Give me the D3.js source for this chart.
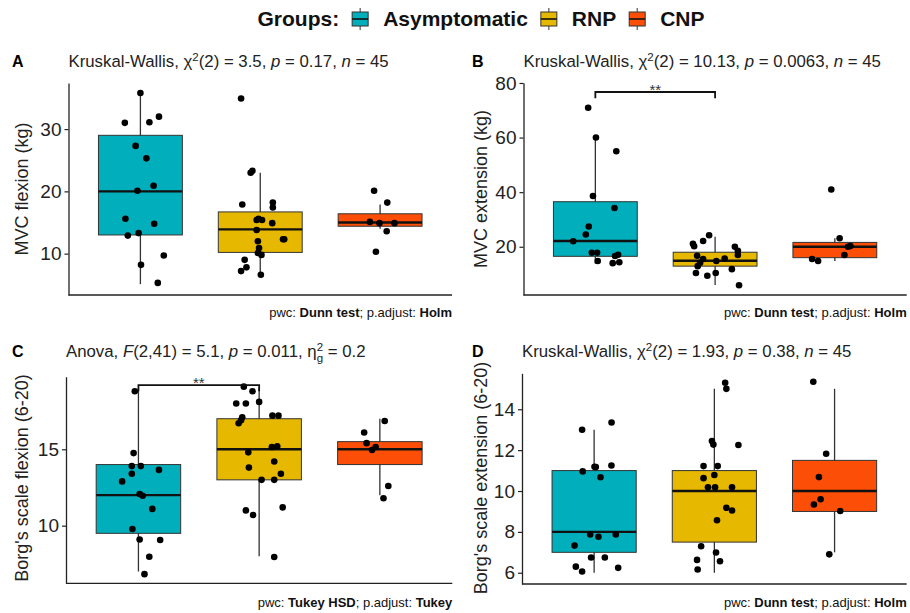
<!DOCTYPE html>
<html>
<head>
<meta charset="utf-8">
<script src="https://cdn.jsdelivr.net/npm/d3@7"></script>
<style>
  body { margin: 0; background: #fff; }
  text { font-family: "Liberation Sans", Arial, Helvetica, sans-serif; }
</style>
</head>
<body>
<div id="chart"></div>
<script>
// groups + fill colours (ggpubr default palette)
var groups = ["Asymptomatic", "RNP", "CNP"];
var groupColors = ["#00AFBB", "#E7B800", "#FC4E07"];

// box stats per group: [lower whisker, q1, median, q3, upper whisker]
var flexBox = [[5.1, 13.0, 20.0, 29.0, 35.8], [6.6, 10.2, 13.9, 16.7, 23.0], [14.0, 14.4, 15.0, 16.4, 17.9]];
var extBox  = [[13.8, 16.5, 22.1, 36.5, 60.2], [6.0, 12.9, 14.9, 18.0, 23.7], [14.8, 16.0, 20.0, 21.6, 23.1]];
var borgFlexBox = [[7.0, 9.5, 12.0, 14.0, 19.0], [8.0, 13.0, 15.0, 17.0, 19.0], [12.0, 14.0, 15.0, 15.5, 17.0]];
var borgExtBox  = [[6.0, 7.0, 8.0, 11.0, 13.0], [6.0, 7.5, 10.0, 11.0, 15.0], [7.0, 9.0, 10.0, 11.5, 15.0]];

// jittered observations (value) and horizontal jitter (category units)
var flexVals = [
  [35.8, 31.0, 31.1, 32.0, 27.3, 25.3, 20.9, 20.1, 15.6, 14.8, 12.9, 13.3, 8.2, 9.7, 5.3],
  [34.9, 23.0, 23.3, 17.9, 18.2, 17.4, 15.6, 15.4, 15.4, 14.9, 13.8, 12.0, 12.3, 12.3, 10.9, 10.1, 9.8, 9.0, 7.8, 7.2, 6.6],
  [20.1, 18.2, 15.1, 14.9, 14.9, 13.6, 10.3]
];
var flexJitter = [
  [0.0, -0.13, 0.075, 0.155, -0.04, 0.05, 0.11, -0.025, -0.125, 0.115, -0.105, -0.015, 0.005, 0.195, 0.145],
  [-0.16, -0.08, -0.065, -0.15, 0.105, 0.105, -0.015, 0.015, -0.03, 0.1, -0.03, -0.02, 0.19, 0.2, -0.01, -0.02, 0.01, -0.13, -0.115, -0.16, 0.005],
  [-0.05, 0.06, -0.085, -0.005, 0.12, 0.055, -0.035]
];
var extVals = [
  [70.9, 60.0, 55.0, 38.6, 34.2, 27.4, 24.5, 22.0, 17.8, 17.8, 17.1, 16.6, 14.8, 14.0, 14.3],
  [24.2, 22.1, 21.1, 20.2, 20.0, 18.5, 17.0, 16.7, 15.5, 15.7, 14.8, 14.1, 12.9, 11.8, 10.4, 10.4, 9.4, 5.9],
  [41.0, 23.1, 20.3, 20.0, 17.0, 15.5, 14.8]
];
var extJitter = [
  [-0.06, 0.005, 0.175, -0.02, 0.16, -0.055, -0.08, -0.185, -0.03, 0.015, 0.19, 0.165, 0.02, 0.145, 0.2],
  [-0.05, -0.1, -0.185, -0.175, 0.165, 0.19, 0.19, -0.15, -0.1, 0.08, 0.01, -0.125, -0.145, 0.14, -0.16, 0.005, -0.065, 0.2],
  [-0.03, 0.04, 0.13, 0.11, 0.08, -0.19, -0.14]
];
var borgFlexVals = [
  [18.8, 14.75, 13.9, 13.9, 13.4, 13.65, 12.9, 12.07, 11.96, 11.1, 9.78, 9.1, 9.06, 7.97, 6.83],
  [19.1, 18.8, 18.0, 18.0, 18.1, 17.2, 17.2, 17.1, 16.9, 16.7, 15.15, 15.2, 14.8, 14.2, 13.8, 13.4, 13.0, 13.0, 11.2, 11.0, 10.7, 7.95],
  [16.85, 16.1, 15.4, 15.15, 14.95, 12.6, 11.8]
];
var borgFlexJitter = [
  [-0.03, -0.04, -0.055, 0.02, -0.055, 0.17, -0.135, 0.01, 0.035, 0.115, -0.05, 0.01, 0.18, 0.09, 0.05],
  [-0.127, -0.055, -0.19, -0.11, 0.0, 0.11, 0.16, -0.14, -0.15, -0.17, 0.105, 0.15, -0.09, 0.125, -0.085, 0.18, 0.02, 0.125, 0.195, -0.11, -0.05, 0.125],
  [0.04, -0.13, -0.11, -0.035, -0.065, 0.07, 0.03]
];
var borgExtVals = [
  [13.0, 13.35, 10.96, 11.19, 11.17, 11.25, 10.67, 7.87, 7.76, 7.87, 7.33, 6.75, 6.75, 6.3, 6.06, 6.24],
  [15.3, 15.0, 12.45, 12.27, 12.25, 11.22, 11.22, 10.63, 10.78, 10.18, 10.18, 10.18, 9.18, 9.05, 8.57, 7.3, 6.99, 6.63, 6.56, 6.16],
  [15.35, 11.82, 10.68, 9.6, 9.34, 9.02, 6.9]
];
var borgExtJitter = [
  [-0.1, 0.145, -0.095, 0.003, 0.014, 0.144, 0.053, -0.033, 0.036, 0.18, -0.163, -0.025, 0.089, -0.152, -0.1, 0.2],
  [0.09, 0.1, -0.02, -0.008, 0.2, -0.09, 0.028, -0.09, 0.0, -0.053, 0.006, 0.147, 0.1, 0.147, 0.022, -0.11, 0.014, -0.144, 0.047, -0.139],
  [-0.177, -0.07, -0.13, -0.116, -0.172, 0.047, -0.044]
];

// y ticks per panel
var flexTicks = [10, 20, 30];
var extTicks = [20, 40, 60, 80];
var borgFlexTicks = [10, 15];
var borgExtTicks = [6, 8, 10, 12, 14];

var W = 910, H = 613;
var svg = d3.select("#chart").append("svg")
    .attr("width", W)
    .attr("height", H)
    .style("background", "#fff");

// text with sup/sub/italic/bold pieces
function richText(sel, segs) {
  var cur = 0;
  segs.forEach(function(s) {
    var off = s.sup ? -6.5 : (s.sub ? 4.5 : 0);
    var t = sel.append("tspan").attr("dy", off - cur).text(s.t);
    cur = off;
    if (s.sup || s.sub) t.attr("font-size", 11.5);
    if (s.dx) t.attr("dx", s.dx);
    if (s.it) t.attr("font-style", "italic");
    if (s.b) t.attr("font-weight", "bold");
  });
}

function drawPanel(p) {
  var g = svg.append("g");
  var x = d3.scaleLinear().domain([0.4, 3.6]).range([p.left, p.right]),
      y = d3.scaleLinear().domain(p.domain).range([p.bottom, p.top]),
      bw = (x(1.35) - x(1)) ;

  // panel letter + test title
  g.append("text")
    .attr("x", p.labelX).attr("y", p.titleY)
    .attr("font-size", 16).attr("font-weight", "bold")
    .text(p.label);
  richText(g.append("text").attr("x", p.left).attr("y", p.titleY).attr("font-size", 16.8).attr("fill", "#222"), p.title);

  // axes
  var yAxis = g.append("g")
    .attr("transform", "translate(" + p.left + ",0)")
    .call(d3.axisLeft(y).tickValues(p.ticks).tickSize(4).tickSizeOuter(0).tickPadding(3));
  yAxis.select(".domain").attr("stroke", "#222").attr("stroke-width", 1.3);
  yAxis.selectAll(".tick line").attr("stroke", "#222").attr("stroke-width", 1.2);
  yAxis.selectAll(".tick text").attr("font-size", 19).attr("fill", "#222")
    .attr("font-family", "Liberation Sans, Arial, sans-serif");

  g.append("line")
    .attr("x1", p.left).attr("x2", p.right)
    .attr("y1", p.bottom).attr("y2", p.bottom)
    .attr("stroke", "#222").attr("stroke-width", 1.3);

  g.append("text")
    .attr("transform", "translate(" + p.yTitleX + "," + p.yTitleY + ") rotate(-90)")
    .attr("text-anchor", "middle")
    .attr("dy", "0.35em")
    .attr("font-size", 18)
    .attr("fill", "#222")
    .text(p.yTitle);

  // boxes
  p.box.forEach(function(b, i) {
    var cx = x(i + 1);
    g.append("line")
      .attr("x1", cx).attr("x2", cx)
      .attr("y1", y(b[0])).attr("y2", y(b[4]))
      .attr("stroke", "#333").attr("stroke-width", 1.3);
    g.append("rect")
      .attr("x", cx - bw).attr("width", 2 * bw)
      .attr("y", y(b[3])).attr("height", y(b[1]) - y(b[3]))
      .attr("fill", groupColors[i])
      .attr("stroke", "#333").attr("stroke-width", 1);
    g.append("line")
      .attr("x1", cx - bw).attr("x2", cx + bw)
      .attr("y1", y(b[2])).attr("y2", y(b[2]))
      .attr("stroke", "#111").attr("stroke-width", 2.4);
  });

  // jittered points
  p.vals.forEach(function(vs, i) {
    g.selectAll(".pt" + i)
      .data(vs)
      .enter()
      .append("circle")
      .attr("cx", function(d, k) { return x(i + 1 + p.jitter[i][k]); })
      .attr("cy", function(d) { return y(d); })
      .attr("r", 3.3)
      .attr("fill", "#000");
  });

  // significance bracket
  if (p.bracket) {
    var br = p.bracket,
        tip = (p.domain[1] - p.domain[0]) * 0.03,
        x1 = x(br.from + 1), x2 = x(br.to + 1);
    g.append("path")
      .attr("d", "M" + x1 + "," + y(br.at - tip) + "V" + y(br.at) + "H" + x2 + "V" + y(br.at - tip))
      .attr("fill", "none").attr("stroke", "#111").attr("stroke-width", 1.8);
    g.append("text")
      .attr("x", (x1 + x2) / 2).attr("y", y(br.at) + 3)
      .attr("text-anchor", "middle")
      .attr("font-size", 15).attr("fill", "#333")
      .text(br.label);
  }

  // caption
  richText(g.append("text").attr("x", p.right).attr("y", p.noteY)
      .attr("text-anchor", "end").attr("font-size", 13).attr("fill", "#111"), p.note);
}

function kwTitle(chi, pv) {
  return [{t: "Kruskal-Wallis, \u03c7"}, {t: "2", sup: true}, {t: "(2) = " + chi + ", "},
          {t: "p", it: true}, {t: " = " + pv + ", "}, {t: "n", it: true}, {t: " = 45"}];
}
var dunnNote = [{t: "pwc: "}, {t: "Dunn test", b: true}, {t: "; p.adjust: "}, {t: "Holm", b: true}];
var tukeyNote = [{t: "pwc: "}, {t: "Tukey HSD", b: true}, {t: "; p.adjust: "}, {t: "Tukey", b: true}];

drawPanel({
  label: "A", labelX: 12, titleY: 67, left: 68.5, right: 452, top: 83, bottom: 295,
  domain: [3.36, 37.4], ticks: flexTicks, yTitle: "MVC flexion (kg)", yTitleX: 22, yTitleY: 189,
  title: kwTitle("3.5", "0.17"), box: flexBox, vals: flexVals, jitter: flexJitter,
  note: dunnNote, noteY: 317
});
drawPanel({
  label: "B", labelX: 472, titleY: 67, left: 523.5, right: 906.7, top: 82.7, bottom: 295,
  domain: [2.33, 80.1], ticks: extTicks, yTitle: "MVC extension (kg)", yTitleX: 481, yTitleY: 189,
  title: kwTitle("10.13", "0.0063"), box: extBox, vals: extVals, jitter: extJitter,
  bracket: {from: 0, to: 1, at: 76.7, label: "**"},
  note: dunnNote, noteY: 317
});
drawPanel({
  label: "C", labelX: 12, titleY: 357, left: 66, right: 452.3, top: 376.7, bottom: 583.3,
  domain: [6.23, 19.75], ticks: borgFlexTicks, yTitle: "Borg's scale flexion (6-20)", yTitleX: 22, yTitleY: 478,
  title: [{t: "Anova, "}, {t: "F", it: true}, {t: "(2,41) = 5.1, "}, {t: "p", it: true},
          {t: " = 0.011, \u03b7"}, {t: "2", sup: true}, {t: "g", sub: true, dx: -6.4}, {t: " = 0.2"}],
  box: borgFlexBox, vals: borgFlexVals, jitter: borgFlexJitter,
  bracket: {from: 0, to: 1, at: 19.2, label: "**"},
  note: tukeyNote, noteY: 607
});
drawPanel({
  label: "D", labelX: 472, titleY: 357, left: 522, right: 906.7, top: 373.3, bottom: 584,
  domain: [5.45, 15.76], ticks: borgExtTicks, yTitle: "Borg's scale extension (6-20)", yTitleX: 481, yTitleY: 478,
  title: kwTitle("1.93", "0.38"), box: borgExtBox, vals: borgExtVals, jitter: borgExtJitter,
  note: dunnNote, noteY: 607
});

// legend on top
var leg = svg.append("g");
var lx = 0;
var head = leg.append("text").attr("x", lx).attr("y", 26).attr("font-size", 21)
  .attr("font-weight", "bold").attr("fill", "#111").text("Groups:");
lx += head.node().getComputedTextLength() + 12;
groups.forEach(function(name, i) {
  var k = leg.append("g").attr("transform", "translate(" + lx + ",0)");
  k.append("line").attr("x1", 9).attr("x2", 9).attr("y1", 8).attr("y2", 30)
    .attr("stroke", "#333").attr("stroke-width", 1);
  k.append("rect").attr("x", 1).attr("y", 12).attr("width", 16).attr("height", 14)
    .attr("fill", groupColors[i]).attr("stroke", "#333").attr("stroke-width", 1);
  k.append("line").attr("x1", 1).attr("x2", 17).attr("y1", 19).attr("y2", 19)
    .attr("stroke", "#111").attr("stroke-width", 1.6);
  lx += 32;
  var t = leg.append("text").attr("x", lx).attr("y", 26).attr("font-size", 21)
    .attr("font-weight", "bold").attr("fill", "#111").text(name);
  lx += t.node().getComputedTextLength() + 12;
});
lx -= 12;
leg.attr("transform", "translate(" + (481 - lx / 2) + ",0)");
</script>
</body>
</html>
